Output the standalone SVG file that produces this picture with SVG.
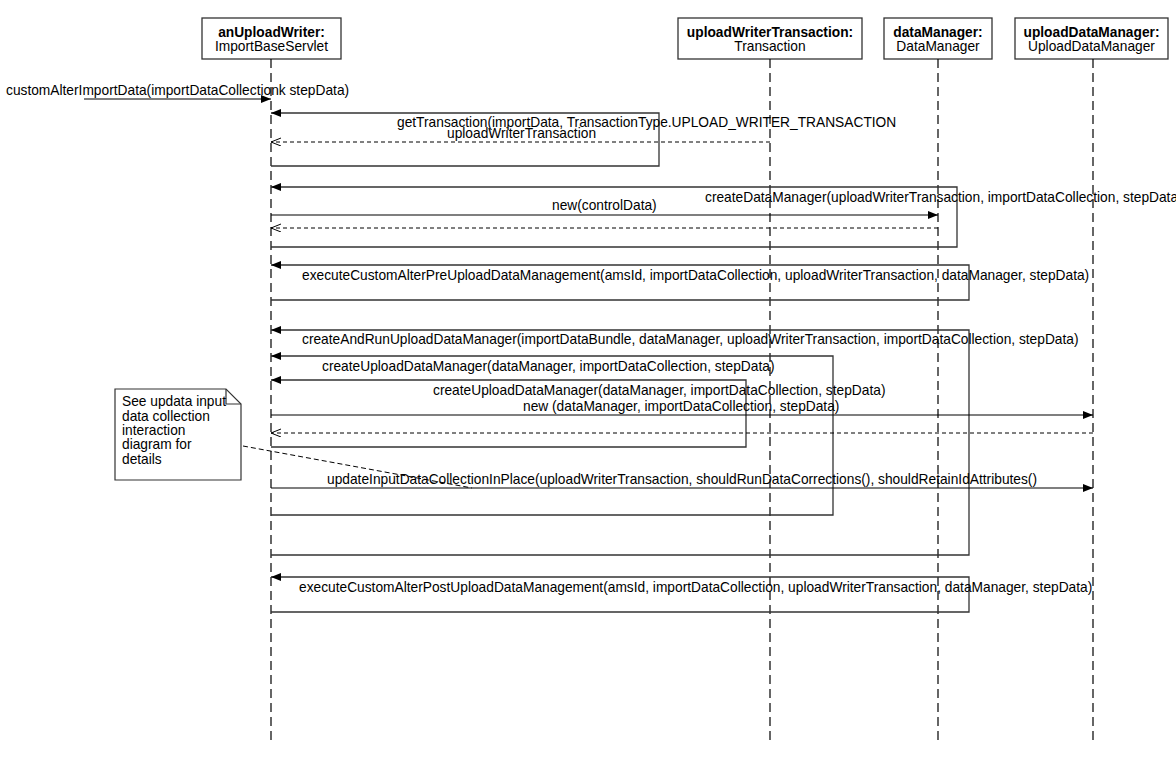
<svg xmlns="http://www.w3.org/2000/svg" width="1176" height="764" viewBox="0 0 1176 764">
<style>
text{font-family:"Liberation Sans",Arial,sans-serif;font-size:13.75px;fill:#000}
.b{font-weight:bold}
.head{fill:#fff;stroke:#333;stroke-width:1.3}
.life{stroke:#000;stroke-width:1.2;stroke-dasharray:9,5;fill:none}
.msg{stroke:#000;stroke-width:1.1;fill:none;marker-end:url(#fa)}
.loop{stroke:#333;stroke-width:1.3;fill:none;marker-end:url(#fa)}
.ret{stroke:#000;stroke-width:1;stroke-dasharray:4,3;fill:none;marker-end:url(#oa)}
.note{fill:#fff;stroke:#333;stroke-width:1.2}
</style>
<defs>
<marker id="fa" markerUnits="userSpaceOnUse" markerWidth="12" markerHeight="10" refX="10" refY="4" orient="auto">
<path d="M0,0 L10,4 L0,8 z" fill="#000"/>
</marker>
<marker id="oa" markerUnits="userSpaceOnUse" markerWidth="12" markerHeight="10" refX="10" refY="4" orient="auto">
<path d="M0,0 L10,4 L0,8" fill="none" stroke="#000" stroke-width="1"/>
</marker>
</defs>
<rect width="1176" height="764" fill="#fff"/>

<g id="anUploadWriter">
<rect class="head" x="202" y="18" width="139" height="41"/>
<text class="b" x="271.5" y="37" text-anchor="middle">anUploadWriter:</text>
<text x="271.5" y="50.5" text-anchor="middle">ImportBaseServlet</text>
<line class="life" x1="271" y1="59" x2="271" y2="745"/>
</g>
<g id="uploadWriterTransaction">
<rect class="head" x="678" y="18" width="184" height="41"/>
<text class="b" x="770" y="37" text-anchor="middle">uploadWriterTransaction:</text>
<text x="770" y="50.5" text-anchor="middle">Transaction</text>
<line class="life" x1="770" y1="59" x2="770" y2="745"/>
</g>
<g id="dataManager">
<rect class="head" x="884" y="18" width="108" height="41"/>
<text class="b" x="938" y="37" text-anchor="middle">dataManager:</text>
<text x="938" y="50.5" text-anchor="middle">DataManager</text>
<line class="life" x1="938" y1="59" x2="938" y2="745"/>
</g>
<g id="uploadDataManager">
<rect class="head" x="1015" y="18" width="153" height="41"/>
<text class="b" x="1091.5" y="37" text-anchor="middle">uploadDataManager:</text>
<text x="1091.5" y="50.5" text-anchor="middle">UploadDataManager</text>
<line class="life" x1="1093" y1="59" x2="1093" y2="745"/>
</g>

<g id="note">
<path class="note" d="M115,389 H226 L241,404 V480 H115 Z"/>
<path d="M226,389 V404 H241" fill="none" stroke="#333" stroke-width="1.2"/>
<text x="122" y="406">See updata input</text>
<text x="122" y="420.5">data collection</text>
<text x="122" y="435">interaction</text>
<text x="122" y="449">diagram for</text>
<text x="122" y="463.5">details</text>
</g>

<g id="connectors">
<line class="msg" x1="84" y1="99" x2="271" y2="99"/>
<text x="6" y="95">customAlterImportData(importDataCollectionk stepData)</text>

<path class="loop" d="M271,166 H659 V113 H271"/>
<text x="397" y="127">getTransaction(importData, TransactionType.UPLOAD_WRITER_TRANSACTION</text>
<line class="ret" x1="770" y1="142" x2="271" y2="142"/>
<text x="447" y="137.5">uploadWriterTransaction</text>

<path class="loop" d="M271,247 H957 V187 H271"/>
<text x="705" y="202">createDataManager(uploadWriterTransaction, importDataCollection, stepData</text>
<line class="msg" x1="271" y1="215" x2="938" y2="215"/>
<text x="552" y="210">new(controlData)</text>
<line class="ret" x1="938" y1="228" x2="271" y2="228"/>

<path class="loop" d="M271,300 H969 V265 H271"/>
<text x="302" y="280">executeCustomAlterPreUploadDataManagement(amsId, importDataCollection, uploadWriterTransaction, dataManager, stepData)</text>

<path class="loop" d="M271,555 H969 V330 H271"/>
<text x="302" y="344">createAndRunUploadDataManager(importDataBundle, dataManager, uploadWriterTransaction, importDataCollection, stepData)</text>

<path class="loop" d="M271,515 H833 V356 H271"/>
<text x="322" y="371">createUploadDataManager(dataManager, importDataCollection, stepData)</text>

<path class="loop" d="M271,447 H746 V380 H271"/>
<text x="433" y="395">createUploadDataManager(dataManager, importDataCollection, stepData)</text>
<line class="msg" x1="271" y1="415" x2="1093" y2="415"/>
<text x="523" y="411">new (dataManager, importDataCollection, stepData)</text>
<line class="ret" x1="1093" y1="433" x2="271" y2="433"/>

<line x1="243" y1="446" x2="472" y2="488" stroke="#000" stroke-width="1" stroke-dasharray="5,3"/>
<line class="msg" x1="271" y1="488" x2="1093" y2="488"/>
<text x="327" y="484">updateInputDataCollectionInPlace(uploadWriterTransaction, shouldRunDataCorrections(), shouldRetainIdAttributes()</text>

<path class="loop" d="M271,612 H969 V577 H271"/>
<text x="299" y="592">executeCustomAlterPostUploadDataManagement(amsId, importDataCollection, uploadWriterTransaction, dataManager, stepData)</text>
</g>
</svg>
